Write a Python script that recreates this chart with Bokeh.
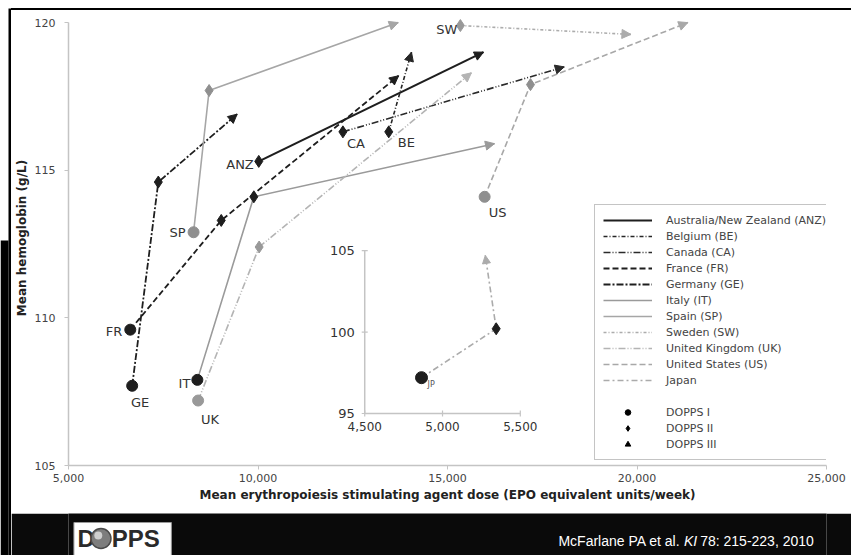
import math
from bokeh.plotting import figure
from bokeh.models import (ColumnDataSource, Range1d, FixedTicker, NumeralTickFormatter,
                          Legend, LegendItem, Arrow, NormalHead, Div)
from bokeh.layouts import column, row
from bokeh.core.properties import value
from bokeh.embed import file_html
from bokeh.resources import INLINE

nan = float("nan")

# ---------------- data ----------------
countries = ["ANZ", "BE", "CA", "FR", "GE", "IT", "SP", "SW", "UK", "US"]
legend_names = ["Australia/New Zealand (ANZ)", "Belgium (BE)", "Canada (CA)", "France (FR)",
                "Germany (GE)", "Italy (IT)", "Spain (SP)", "Sweden (SW)",
                "United Kingdom (UK)", "United States (US)"]
dose_I = [nan, nan, nan, 6630, 6680, 8400, 8300, nan, 8420, 15980]
hgb_I = [nan, nan, nan, 109.6, 107.7, 107.9, 112.9, nan, 107.2, 114.1]
dose_II = [10020, 13450, 12240, 9030, 7370, 9890, 8710, 15340, 10030, 17190]
hgb_II = [115.3, 116.3, 116.3, 113.3, 114.6, 114.1, 117.7, 119.9, 112.4, 117.9]
dose_III = [15950, 14050, 18080, 13710, 9450, 16240, 13700, 19840, 15630, 21340]
hgb_III = [119.0, 119.0, 118.5, 118.2, 116.9, 115.9, 120.0, 119.6, 118.3, 120.0]

jp_name = "Japan"
jp_label = "JP"
jp_dose = [4865, 5345, 5275]
jp_hgb = [97.2, 100.2, 104.7]

x_ticks = [5000, 10000, 15000, 20000, 25000]
y_ticks = [105, 110, 115, 120]
inset_x_ticks = [4500, 5000, 5500]
inset_y_ticks = [95, 100, 105]
marker_names = ["DOPPS I", "DOPPS II", "DOPPS III"]
x_title = "Mean erythropoiesis stimulating agent dose (EPO equivalent units/week)"
y_title = "Mean hemoglobin (g/L)"
citation = ["McFarlane PA et al.", "KI", "78: 215-223, 2010"]
logo = ["D", "PPS"]

# ---------------- styles ----------------
FONT = "DejaVu Sans"
DARK = "#1e1e1e"
GRAYMK = "#8f8f8f"
st = {
    "ANZ": dict(color=DARK, dash="solid", width=2.2, mk=DARK),
    "BE": dict(color="#262626", dash="4 2 1 2", width=1.6, mk=DARK),
    "CA": dict(color="#2a2a2a", dash="7 2 1 2 1 2", width=1.6, mk=DARK),
    "FR": dict(color=DARK, dash="6 3", width=1.8, mk=DARK),
    "GE": dict(color=DARK, dash="7 2 2 2", width=1.8, mk=DARK),
    "IT": dict(color="#9a9a9a", dash="solid", width=1.6, mk=DARK),
    "SP": dict(color="#a6a6a6", dash="solid", width=1.6, mk=GRAYMK),
    "SW": dict(color="#acacac", dash="3 2 1 2", width=1.6, mk="#999999"),
    "UK": dict(color="#b4b4b4", dash="7 2 1 2 1 2", width=1.6, mk="#999999"),
    "US": dict(color="#a8a8a8", dash="6 3", width=1.6, mk=GRAYMK),
}
jp_style = dict(color="#ababab", dash="6 3 2 3", width=1.6, mk=DARK)
# label anchor stage, alignment, x offset, y offset (px, +down)
lab = {
    "ANZ": ("II", "right", -5, 3),
    "BE": ("II", "left", 9, 11),
    "CA": ("II", "left", 4, 12),
    "FR": ("I", "right", -8, 2),
    "GE": ("I", "center", 8, 17),
    "IT": ("I", "right", -7, 4),
    "SP": ("I", "right", -8, 0),
    "SW": ("II", "right", -3, 4),
    "UK": ("I", "center", 12, 19),
    "US": ("I", "left", 4, 16),
}


def plain(w, h, bg):
    f = figure(width=w, height=h, output_backend="svg", toolbar_location=None, min_border=0,
               title=None, x_range=Range1d(0, w), y_range=Range1d(0, h))
    f.axis.visible = False
    f.xgrid.visible = False
    f.ygrid.visible = False
    f.outline_line_color = None
    f.background_fill_color = bg
    f.border_fill_color = bg
    return f


TOTAL_W, TOTAL_H = 851, 555
LW, TH, MH, BH = 11, 10, 503, 42
W = TOTAL_W - LW

p = figure(width=W, height=MH, x_range=Range1d(5000, 25000), y_range=Range1d(105, 120.41),
           output_backend="svg", toolbar_location=None,
           min_border_left=55, min_border_right=25, min_border_top=0, min_border_bottom=48)
p.extra_x_ranges = {"inset": Range1d(2596, 7468)}
p.extra_y_ranges = {"inset": Range1d(91.81, 119.73)}
p.xgrid.visible = False
p.ygrid.visible = False
p.outline_line_color = None
p.background_fill_color = "white"
p.border_fill_color = "white"

for ax in (p.xaxis, p.yaxis):
    ax.axis_line_color = "#c4c4c4"
    ax.axis_line_width = 1.5
    ax.major_tick_line_color = "#c4c4c4"
    ax.major_tick_in = 0
    ax.major_tick_out = 4
    ax.minor_tick_line_color = None
    ax.major_label_text_font = FONT
    ax.major_label_text_font_size = "11px"
    ax.major_label_text_color = "#444444"
    ax.axis_label_text_font = FONT
    ax.axis_label_text_font_style = "bold"
    ax.axis_label_text_color = "#222222"
    ax.axis_label_text_font_size = "12px"
p.xaxis.ticker = FixedTicker(ticks=x_ticks)
p.xaxis.formatter = NumeralTickFormatter(format="0,0")
p.xaxis.bounds = (x_ticks[0], x_ticks[-1])
p.xaxis.major_label_standoff = 4
p.xaxis.axis_label = x_title
p.xaxis.axis_label_standoff = 3
p.yaxis.ticker = FixedTicker(ticks=y_ticks)
p.yaxis.bounds = (y_ticks[0], y_ticks[-1])
p.yaxis.major_label_standoff = 9
p.yaxis.axis_label = y_title
p.yaxis.axis_label_standoff = 3

line_renderers = []
for i, c in enumerate(countries):
    s = st[c]
    xs = [v for v in (dose_I[i], dose_II[i], dose_III[i]) if not math.isnan(v)]
    ys = [v for v in (hgb_I[i], hgb_II[i], hgb_III[i]) if not math.isnan(v)]
    r = p.line(xs, ys, line_color=s["color"], line_width=s["width"], line_dash=s["dash"])
    line_renderers.append(r)
    p.add_layout(Arrow(end=NormalHead(size=9, fill_color=s["color"], line_color=s["color"], line_width=1),
                       x_start=dose_II[i], y_start=hgb_II[i], x_end=dose_III[i], y_end=hgb_III[i],
                       line_alpha=0))

# Japan (inset)
jp_line = p.line(jp_dose, jp_hgb, line_color=jp_style["color"], line_width=jp_style["width"],
                 line_dash=jp_style["dash"], x_range_name="inset", y_range_name="inset")
p.add_layout(Arrow(end=NormalHead(size=8, fill_color=jp_style["color"], line_color=jp_style["color"], line_width=1),
                   x_start=jp_dose[1], y_start=jp_hgb[1], x_end=jp_dose[2], y_end=jp_hgb[2],
                   line_alpha=0, x_range_name="inset", y_range_name="inset"))

# markers
idx1 = [i for i in range(len(countries)) if not math.isnan(dose_I[i])]
src1 = ColumnDataSource(dict(x=[dose_I[i] for i in idx1], y=[hgb_I[i] for i in idx1],
                             c=[st[countries[i]]["mk"] for i in idx1]))
p.scatter("x", "y", source=src1, marker="circle", size=11, fill_color="c", line_color="c")
src2 = ColumnDataSource(dict(x=dose_II, y=hgb_II, c=[st[c]["mk"] for c in countries]))
p.scatter("x", "y", source=src2, marker="diamond", size=12, fill_color="c", line_color="c")
p.scatter(jp_dose[:1], jp_hgb[:1], marker="circle", size=12, color=DARK,
          x_range_name="inset", y_range_name="inset")
p.scatter(jp_dose[1:2], jp_hgb[1:2], marker="diamond", size=12, color=DARK,
          x_range_name="inset", y_range_name="inset")

# country labels
for i, c in enumerate(countries):
    stage, align, xo, yo = lab[c]
    x = dose_I[i] if stage == "I" else dose_II[i]
    y = hgb_I[i] if stage == "I" else hgb_II[i]
    p.text([x], [y], text=[c], text_align=align, text_baseline="middle", x_offset=xo, y_offset=yo,
           text_font=value(FONT), text_font_size="13px", text_color="#333333")
p.text(jp_dose[:1], jp_hgb[:1], text=[jp_label], text_align="left", text_baseline="middle",
       x_offset=6, y_offset=7, text_font=value(FONT), text_font_size="8px", text_color="#555555",
       x_range_name="inset", y_range_name="inset")

# inset axes
AX = "#c4c4c4"
p.segment(x0=[inset_x_ticks[0], inset_x_ticks[0]], y0=[inset_y_ticks[0], inset_y_ticks[0]],
          x1=[inset_x_ticks[0], inset_x_ticks[-1]], y1=[inset_y_ticks[-1], inset_y_ticks[0]],
          line_color=AX, line_width=1.5, x_range_name="inset", y_range_name="inset")
p.scatter([inset_x_ticks[0]] * len(inset_y_ticks), inset_y_ticks, marker="dash", size=6,
          line_color=AX, line_width=1.2, x_range_name="inset", y_range_name="inset")
p.scatter(inset_x_ticks, [inset_y_ticks[0]] * len(inset_x_ticks), marker="dash", angle=math.pi / 2,
          size=6, line_color=AX, line_width=1.2, x_range_name="inset", y_range_name="inset")
p.text([inset_x_ticks[0]] * len(inset_y_ticks), inset_y_ticks, text=[f"{v}" for v in inset_y_ticks],
       text_align="right", text_baseline="middle", x_offset=-10, text_font=value(FONT),
       text_font_size="13px", text_color="#333333", x_range_name="inset", y_range_name="inset")
p.text(inset_x_ticks, [inset_y_ticks[0]] * len(inset_x_ticks), text=[f"{v:,}" for v in inset_x_ticks],
       text_align="center", text_baseline="top", y_offset=8, text_font=value(FONT),
       text_font_size="12px", text_color="#333333", x_range_name="inset", y_range_name="inset")

# legend (marker keys use placeholder points that are never drawn in the plot)
spacer = p.line(x=[nan, nan], y=[nan, nan], line_alpha=0)
d1 = p.scatter(x=[nan], y=[nan], marker="circle", size=14, color="black")
d2 = p.scatter(x=[nan], y=[nan], marker="diamond", size=14, color="black")
d3 = p.scatter(x=[nan], y=[nan], marker="triangle", size=12, color="black")
items = [LegendItem(label=legend_names[i], renderers=[line_renderers[i]]) for i in range(len(countries))]
items.append(LegendItem(label=jp_name, renderers=[jp_line]))
items.append(LegendItem(label=" ", renderers=[spacer]))
for nm, r in zip(marker_names, (d1, d2, d3)):
    items.append(LegendItem(label=nm, renderers=[r]))
leg = Legend(items=items, location=(526, 5), glyph_width=49, glyph_height=14, label_height=12,
             spacing=2, padding=8, label_standoff=14, label_text_font=FONT,
             label_text_font_size="11px", label_text_color="#444444",
             border_line_color="#8a8a8a", border_line_width=1.5, background_fill_alpha=1, margin=0)
p.add_layout(leg)

# banner
b = plain(W, BH, "#0a0a0a")
b.quad(left=[6], right=[114], bottom=[-2], top=[33], fill_color="white", line_color="#9a9a9a")
b.text([10], [17], text=[logo[0]], text_align="left", text_baseline="middle",
       text_font=value("Liberation Sans"), text_font_style="bold", text_font_size="24px", text_color="#2a2a2a")
b.scatter([36], [17], marker="circle", size=20, fill_color="#7d7d7d", line_color="#4a4a4a", line_width=1.5)
b.scatter([33], [20], marker="circle", size=8, fill_color="#cfcfcf", line_color=None)
b.text([48], [17], text=[logo[1]], text_align="left", text_baseline="middle",
       text_font=value("Liberation Sans"), text_font_style="bold", text_font_size="24px", text_color="#2a2a2a")
CF = "Liberation Sans"
b.text([678], [15], text=[citation[0]], text_align="right", text_baseline="middle",
       text_font=value(CF), text_font_size="14px", text_color="white")
b.text([682], [15], text=[citation[1]], text_align="left", text_baseline="middle",
       text_font=value(CF), text_font_style="italic", text_font_size="14px", text_color="white")
b.text([700], [15], text=[citation[2]], text_align="left", text_baseline="middle",
       text_font=value(CF), text_font_size="14px", text_color="white")

# slide frame: top rule (styled strip) and left bar
top = Div(width=W, height=TH, margin=0, text="",
          styles={"background": "linear-gradient(to bottom, #ffffff 0px, #ffffff 8px, #000000 8px, #000000 10px)"})
left = plain(LW, TOTAL_H, "white")
left.quad(left=[8], right=[LW], bottom=[0], top=[TOTAL_H - 8], fill_color="black", line_color=None)
left.quad(left=[0], right=[8], bottom=[0], top=[TOTAL_H - 240], fill_color="black", line_color=None)

lay = row(left, column(top, p, b, spacing=0), spacing=0)
open("out.html", "w").write(file_html(lay, INLINE))
